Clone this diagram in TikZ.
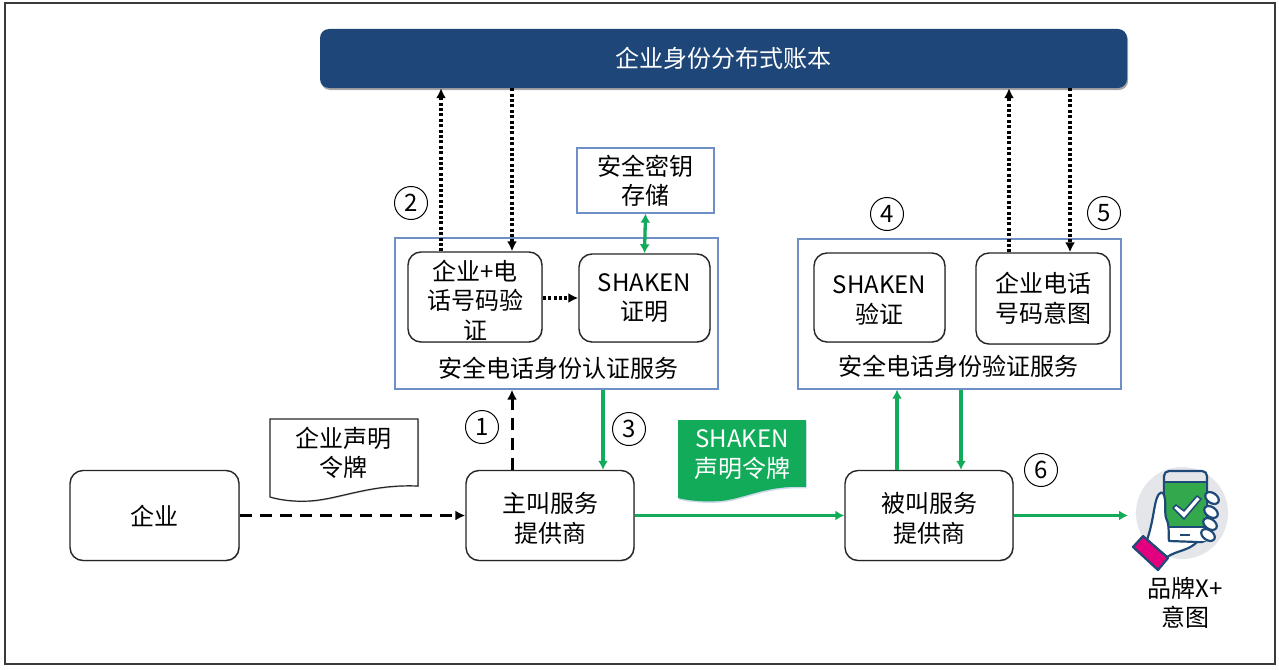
\documentclass[tikz,border=0pt]{standalone}
\usepackage{fontspec}
\setmainfont{Noto Sans CJK SC}
\usetikzlibrary{arrows.meta,shadows,calc}
\definecolor{ledgerblue}{HTML}{1E4679}
\definecolor{framegray}{HTML}{3A3A3A}
\definecolor{boxblue}{HTML}{6F90C6}
\definecolor{flowgreen}{HTML}{12AB59}
\definecolor{icongray}{HTML}{E4E6EA}
\definecolor{iconblue}{HTML}{1F4A78}
\definecolor{iconpink}{HTML}{E3007F}
\definecolor{icongreen}{HTML}{34A84C}
\tikzset{
  x=1pt,y=-1pt,
  lbl/.style={font=\fontsize{24}{29.5}\selectfont,align=center,inner sep=0pt,text=black},
  stepbox/.style={draw=black!85,line width=1.4pt,rounded corners=13pt,fill=white,
    drop shadow={shadow xshift=0.8pt,shadow yshift=-0.8pt,opacity=.25,fill=black}},
  svcbox/.style={draw=boxblue,line width=1.3pt,fill=white},
  num/.style={lbl,draw=black,line width=1pt,circle,minimum size=33pt,fill=white},
  dotarrow/.style={line width=3.4pt,black,dash pattern=on 3pt off 2.4pt,-{Latex[length=10pt,width=10pt]}},
  dasharrow/.style={line width=3pt,black,dash pattern=on 12pt off 8pt,-{Latex[length=10pt,width=10pt]}},
  greenarrow/.style={line width=2.6pt,flowgreen,-{Latex[length=9pt,width=10pt]}},
  upright/.style={line width=3.3pt},
  caption/.style={label={[lbl,yshift=-3pt]center:{#1}}},
}
\begin{document}
\begin{tikzpicture}
\useasboundingbox (0,0) rectangle (1279,669);
\fill[white] (0,0) rectangle (1279,669);
\draw[framegray,line width=1.4pt] (5,3) rectangle (1275,664);

% ledger
\node[lbl,text=white,fill=ledgerblue,rounded corners=9pt,minimum width=807pt,minimum height=59pt,
  drop shadow={shadow xshift=1pt,shadow yshift=-2pt,opacity=.35,fill=black}] (ledger) at (723.5,58.5) {企业身份分布式账本};

% key store
\node[lbl,svcbox,minimum width=137pt,minimum height=65pt] (keystore) at (645.5,180.5) {安全密钥\\存储};

% services
\node[svcbox,minimum width=323pt,minimum height=151pt] (authsvc) at (556.5,313.5) {};
\node[svcbox,minimum width=323pt,minimum height=150pt] (versvc) at (959.5,314) {};
\node[lbl] (authlabel) at (558,368) {安全电话身份认证服务};
\node[lbl] (verlabel) at (958,366) {安全电话身份验证服务};

% inner steps
\node[stepbox,minimum width=134pt,minimum height=90pt,caption={企业+电\\话号码验\\证}] (check) at (475,297) {};
\node[stepbox,lbl,minimum width=131pt,minimum height=88pt] (cert) at (644.5,298) {SHAKEN\\证明};
\node[stepbox,minimum width=131pt,minimum height=89pt,caption={SHAKEN\\验证}] (verify) at (879.5,297.5) {};
\node[stepbox,lbl,minimum width=134pt,minimum height=91pt] (intent) at (1043,298.5) {企业电话\\号码意图};

% bottom row
\node[stepbox,lbl,minimum width=169pt,minimum height=90pt] (ent) at (154.5,515.5) {企业};
\node[stepbox,minimum width=168pt,minimum height=90pt,caption={主叫服务\\提供商}] (orig) at (550,515.5) {};
\node[stepbox,minimum width=168pt,minimum height=90pt,caption={被叫服务\\提供商}] (term) at (929,515.5) {};

% tokens
\path[draw=black!85,line width=1.2pt,fill=white,
  drop shadow={shadow xshift=1pt,shadow yshift=-1pt,opacity=.2,fill=black}]
  (270,419) -- (418,419) -- (418,486)
  .. controls (370,484) and (340,499) .. (310,501)
  .. controls (295,502) and (280,500) .. (270,497) -- cycle;
\node[lbl] (enttoken) at (343,453) {企业声明\\令牌};
\path[fill=flowgreen,
  drop shadow={shadow xshift=0.5pt,shadow yshift=-1.5pt,opacity=.35,fill=boxblue}]
  (678,420) -- (806,420) -- (806,487)
  .. controls (765,485) and (745,499) .. (720,501)
  .. controls (705,502) and (690,501) .. (678,498) -- cycle;
\node[lbl,text=white] (shakentoken) at (742,454.5) {SHAKEN\\声明令牌};

% numbered circles
\node[num] (n1) at (482,427) {1};
\node[num] (n2) at (411,203) {2};
\node[num] (n3) at (629,429) {3};
\node[num] (n4) at (887,214) {4};
\node[num] (n5) at (1104,213) {5};
\node[num] (n6) at (1041,470) {6};

% connectors
\draw[dotarrow] ([xshift=-34pt]check.north) -- ([xshift=-34pt]check.north |- ledger.south);
\draw[dotarrow] ([xshift=37pt]check.north |- ledger.south) -- ([xshift=37pt]check.north);
\draw[dotarrow] (check.east |- cert.west) -- (cert.west);
\draw[greenarrow,upright,{Latex[length=9pt,width=10pt]}-{Latex[length=9pt,width=10pt]}] (keystore.south) -- (cert.north);
\draw[dotarrow] ([xshift=-34pt]intent.north) -- ([xshift=-34pt]intent.north |- ledger.south);
\draw[dotarrow] ([xshift=27pt]intent.north |- ledger.south) -- ([xshift=27pt]intent.north);
\draw[dasharrow] (ent.east) -- (orig.west);
\draw[dasharrow] ([xshift=-38pt]orig.north) -- ([xshift=-38pt]orig.north |- authsvc.south);
\draw[greenarrow,upright] ([xshift=53pt]orig.north |- authsvc.south) -- ([xshift=53pt]orig.north);
\draw[greenarrow] (orig.east) -- (term.west);
\draw[greenarrow,upright] ([xshift=-32pt]term.north) -- ([xshift=-32pt]term.north |- versvc.south);
\draw[greenarrow,upright] ([xshift=32pt]term.north |- versvc.south) -- ([xshift=32pt]term.north);

% icon
\fill[icongray] (1182,513) circle (46);
\coordinate (iconedge) at (1128,515.5);
\draw[greenarrow] (term.east) -- (iconedge);
\begin{scope}[line width=2.2pt,draw=iconblue,line join=round]
  % phone
  \draw[fill=icongray,rounded corners=5pt] (1164,471) rectangle (1207,542);
  \fill[icongreen] (1165,482) rectangle (1206,527);
  \fill[white] (1165,528) rectangle (1206,541);
  \draw (1164,482) -- (1207,482) (1164,527) -- (1207,527);
  \draw (1180,535) -- (1190,535);
  % tick
  \draw[iconblue,line width=1.5pt,fill=white] (1173,508) -- (1176,505) -- (1184,511) -- (1197,496) -- (1201,499) -- (1184,519) -- cycle;
  % fingers
  \foreach \fy/\fx in {498/1212,512/1211,524/1210,535/1208}{
    \draw[fill=white,rotate around={-35:(\fx,\fy)}] (\fx,\fy) ellipse (7.5 and 5);
  }
  % hand
  \draw[fill=white] (1147,540) .. controls (1152,525) and (1153,515) .. (1155,505)
    .. controls (1157,495) and (1160,491) .. (1163,493)
    .. controls (1167,500) and (1164,510) .. (1166,518)
    .. controls (1170,525) and (1168,535) .. (1169,541)
    -- (1197,542) .. controls (1188,551) and (1178,550) .. (1167,557) -- cycle;
  % cuff
  \draw[fill=iconpink] (1143,536) -- (1168,558) -- (1158,570) -- (1133,547) -- cycle;
\end{scope}
\node[lbl] (brand) at (1185,603) {品牌X+\\意图};
\end{tikzpicture}
\end{document}
